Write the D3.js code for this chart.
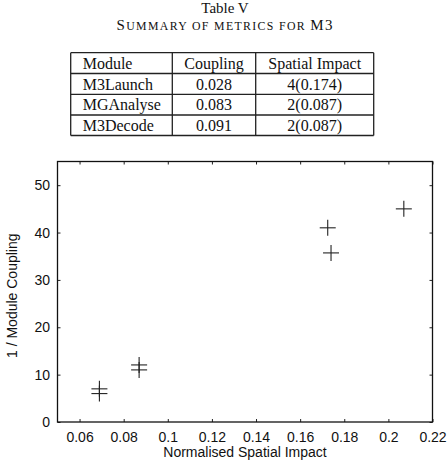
<!DOCTYPE html>
<html><head><meta charset="utf-8">
<script src="https://cdn.jsdelivr.net/npm/d3@7"></script>
<style>html,body{margin:0;padding:0;background:#fff;}svg{display:block;}</style>
</head><body>
<svg id="c" width="448" height="464"></svg>
<script>
// ---- data ----
const tableHeader = ["Module", "Coupling", "Spatial Impact"];
const modules = ["M3Launch", "MGAnalyse", "M3Decode"];
const couplingText = ["0.028", "0.083", "0.091"];
const spatialText = ["4(0.174)", "2(0.087)", "2(0.087)"];

const spatialImpact = [0.069, 0.069, 0.087, 0.087, 0.1725, 0.174, 0.207];
const invCoupling = [7, 6, 12.05, 11, 41, 35.7, 45];

const xTicks = [0.06, 0.08, 0.1, 0.12, 0.14, 0.16, 0.18, 0.2, 0.22];
const yTicks = [0, 10, 20, 30, 40, 50];

const svg = d3.select("#c");
const serif = "'Liberation Serif','Times New Roman',serif";
const sans = "'Liberation Sans',Arial,Helvetica,sans-serif";

// ---- caption ----
svg.append("text").attr("x", 225).attr("y", 13).attr("text-anchor", "middle")
  .style("font-family", serif).style("font-size", "15px").attr("fill", "#111").text("Table V");
const cap = svg.append("text").attr("x", 116.5).attr("y", 29.5)
  .attr("textLength", 216).attr("lengthAdjust", "spacing")
  .style("font-family", serif).attr("fill", "#111");
cap.append("tspan").style("font-size", "15px").text("S");
cap.append("tspan").style("font-size", "11.8px").text("UMMARY OF METRICS FOR ");
cap.append("tspan").style("font-size", "15px").text("M3");

// ---- table ----
const colEdges = [70.7, 172.3, 255.7, 373.7];
const rowEdges = [52.7, 73.5, 94.3, 115, 135.5];
const tg = svg.append("g");
const rowsData = [tableHeader].concat(modules.map((m, i) => [m, couplingText[i], spatialText[i]]));
rowEdges.forEach(y => tg.append("line").attr("x1", colEdges[0]).attr("x2", colEdges[3])
  .attr("y1", y).attr("y2", y).attr("stroke", "#222").attr("stroke-width", 1.3));
colEdges.forEach(x => tg.append("line").attr("x1", x).attr("x2", x)
  .attr("y1", rowEdges[0]).attr("y2", rowEdges[4]).attr("stroke", "#222").attr("stroke-width", 1.3));
rowsData.forEach((r, i) => {
  const yb = rowEdges[i] + 16;
  tg.append("text").attr("x", 82.7).attr("y", yb).style("font-family", serif)
    .style("font-size", "16px").attr("fill", "#111").text(r[0]);
  tg.append("text").attr("x", (colEdges[1] + colEdges[2]) / 2).attr("y", yb).attr("text-anchor", "middle")
    .style("font-family", serif).style("font-size", "16px").attr("fill", "#111").text(r[1]);
  tg.append("text").attr("x", (colEdges[2] + colEdges[3]) / 2).attr("y", yb).attr("text-anchor", "middle")
    .style("font-family", serif).style("font-size", "16px").attr("fill", "#111").text(r[2]);
});

// ---- scatter ----
const L = 57.5, R = 432.5, T = 161.5, B = 422;
const x = d3.scaleLinear().domain([0.05, 0.22]).range([L, R]);
const y = d3.scaleLinear().domain([0, 55]).range([B, T]);
const g = svg.append("g");

const tickLen = 3;
g.append("g").attr("transform", `translate(0,${B})`)
  .call(d3.axisBottom(x).tickValues(xTicks).tickSizeInner(-tickLen).tickSizeOuter(0).tickPadding(10).tickFormat(d3.format("~g")))
  .call(s => s.select(".domain").remove());
g.append("g").attr("transform", `translate(0,${T})`)
  .call(d3.axisTop(x).tickValues(xTicks).tickSizeInner(-tickLen).tickSizeOuter(0).tickFormat(""))
  .call(s => s.select(".domain").remove());
g.append("g").attr("transform", `translate(${L},0)`)
  .call(d3.axisLeft(y).tickValues(yTicks).tickSizeInner(-tickLen).tickSizeOuter(0).tickPadding(7.5).tickFormat(d3.format("d")))
  .call(s => s.select(".domain").remove());
g.append("g").attr("transform", `translate(${R},0)`)
  .call(d3.axisRight(y).tickValues(yTicks).tickSizeInner(-tickLen).tickSizeOuter(0).tickFormat(""))
  .call(s => s.select(".domain").remove());
g.selectAll(".tick line").attr("stroke", "#222").attr("stroke-width", 1);
g.selectAll(".tick text").style("font-family", sans).style("font-size", "14px").attr("fill", "#111");

g.append("rect").attr("x", L).attr("y", T).attr("width", R - L).attr("height", B - T)
  .attr("fill", "none").attr("stroke", "#111").attr("stroke-width", 1.3);

const pts = spatialImpact.map((s, i) => ({ s, c: invCoupling[i] }));
const h = 8;
const mk = g.append("g").selectAll("g").data(pts).join("g")
  .attr("transform", d => `translate(${x(d.s)},${y(d.c)})`);
mk.append("line").attr("x1", -h).attr("x2", h).attr("y1", 0).attr("y2", 0).attr("stroke", "#222").attr("stroke-width", 1.1);
mk.append("line").attr("x1", 0).attr("x2", 0).attr("y1", -h).attr("y2", h).attr("stroke", "#222").attr("stroke-width", 1.1);

svg.append("text").attr("x", 245).attr("y", 456.5).attr("text-anchor", "middle")
  .style("font-family", sans).style("font-size", "14px").attr("fill", "#111").text("Normalised Spatial Impact");
svg.append("text").attr("transform", `translate(17,${(T + B) / 2 + 4}) rotate(-90)`).attr("text-anchor", "middle")
  .style("font-family", sans).style("font-size", "14px").attr("fill", "#111").text("1 / Module Coupling");
</script>
</body></html>
